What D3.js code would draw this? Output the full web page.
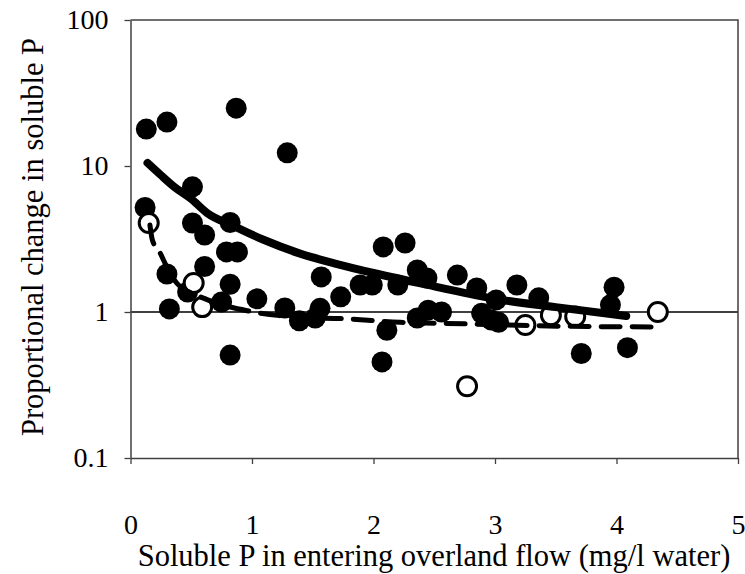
<!DOCTYPE html>
<html>
	<head>
		<title>Proportional change in soluble P</title>
		<script src="https://cdnjs.cloudflare.com/ajax/libs/d3/7.8.5/d3.min.js"></script>
		<style type="text/css">
			body { margin: 0; background: #fff; }
			svg text { font-family: "Liberation Serif", "Times New Roman", serif; fill: #000; }
			.tick text { font-size: 28px; }
			.label { font-size: 30.5px; }
		</style>
	</head>
	<body>
		<svg id="chart" width="745" height="574"></svg>

		<script type="text/javascript">
			// data
			var filledX = [0.13, 0.30, 0.87, 1.29, 0.12, 0.51, 0.51, 0.61, 0.82, 0.79, 0.88, 0.30, 0.61, 0.47, 0.32,
			               0.82, 0.75, 0.82, 1.04, 1.27, 1.39, 1.52, 1.56, 1.57, 1.73, 1.89, 1.99, 2.08, 2.26, 2.20,
			               2.36, 2.44, 2.69, 2.85, 3.01, 2.36, 2.45, 2.56, 2.11, 2.07, 2.89, 2.97, 3.18, 3.03, 3.36,
			               3.98, 3.95, 3.71, 4.09];
			var filledY = [17.9, 20.0, 24.9, 12.3, 5.2, 7.2, 4.07, 3.37, 4.1, 2.58, 2.58, 1.82, 2.05, 1.37, 1.05,
			               1.55, 1.17, 0.507, 1.23, 1.065, 0.87, 0.91, 1.06, 1.74, 1.27, 1.53, 1.53, 2.79, 2.97, 1.53,
			               1.94, 1.71, 1.79, 1.46, 1.21, 0.91, 1.03, 1.0, 0.75, 0.455, 0.98, 0.88, 1.53, 0.85, 1.25,
			               1.48, 1.12, 0.52, 0.57];
			var openX = [0.15, 0.52, 0.59, 2.77, 3.25, 3.46, 3.66, 4.34];
			var openY = [4.07, 1.58, 1.08, 0.31, 0.815, 0.95, 0.93, 1.0];

			// fitted curves, traced point by point
			var solidX = [0.14, 0.25, 0.36, 0.5, 0.63, 0.85, 1.1, 1.39, 1.7, 2.0, 2.5, 3.0, 3.5, 4.08];
			var solidY = [10.5, 8.66, 7.2, 5.95, 4.77, 3.88, 3.11, 2.52, 2.13, 1.85, 1.5, 1.23, 1.08, 0.94];
			var dashX = [0.16, 0.18, 0.24, 0.30, 0.38, 0.54, 0.71, 0.96, 1.39, 1.75, 2.22, 2.75, 3.51, 4.33];
			var dashY = [3.94, 3.11, 2.57, 2.03, 1.58, 1.31, 1.15, 1.02, 0.92, 0.90, 0.85, 0.83, 0.80, 0.79];

			var xTicks = [0, 1, 2, 3, 4, 5];
			var yTicks = [0.1, 1, 10, 100];

			var svg = d3.select( '#chart' );
			var mLeft = 130.5, mRight = 738, mTop = 20, mBottom = 458;

			var x = d3.scaleLinear().domain( [0, 5] ).range( [mLeft, mRight] );
			var y = d3.scaleLog().domain( [0.1, 100] ).range( [mBottom, mTop] );

			// reference line at 1
			svg.append( 'line' )
			   .attr( 'x1', mLeft ).attr( 'x2', mRight )
			   .attr( 'y1', y(1) ).attr( 'y2', y(1) )
			   .attr( 'stroke', '#000' ).attr( 'stroke-width', 1.3 );

			// box (top and right)
			svg.append( 'path' )
			   .attr( 'd', 'M' + mLeft + ',' + mTop + 'H' + mRight + 'V' + mBottom )
			   .attr( 'fill', 'none' ).attr( 'stroke', '#404040' ).attr( 'stroke-width', 1.5 );

			svg.append( 'g' )
			   .attr( 'transform', 'translate(0,' + mBottom + ')' )
			   .call( d3.axisBottom( x ).tickValues( xTicks ).tickSize( 6 ).tickSizeOuter( 0 ).tickPadding( 50 ).tickFormat( d3.format( 'd' ) ) );

			svg.append( 'g' )
			   .attr( 'transform', 'translate(' + mLeft + ',0)' )
			   .call( d3.axisLeft( y ).tickValues( yTicks ).tickSize( 6 ).tickSizeOuter( 0 ).tickPadding( 16 ).tickFormat( function( d ) { return String( d ); } ) );

			svg.selectAll( '.domain' ).attr( 'stroke', '#404040' ).attr( 'stroke-width', 1.5 );
			svg.selectAll( '.tick line' ).attr( 'stroke', '#404040' ).attr( 'stroke-width', 1.3 );

			// filled points
			svg.append( 'g' ).selectAll( 'circle' )
			   .data( d3.range( filledX.length ) )
			   .enter().append( 'circle' )
			   .attr( 'cx', function( i ) { return x( filledX[i] ); } )
			   .attr( 'cy', function( i ) { return y( filledY[i] ); } )
			   .attr( 'r', 10.5 )
			   .attr( 'fill', '#000' );

			// open points
			svg.append( 'g' ).selectAll( 'circle' )
			   .data( d3.range( openX.length ) )
			   .enter().append( 'circle' )
			   .attr( 'cx', function( i ) { return x( openX[i] ); } )
			   .attr( 'cy', function( i ) { return y( openY[i] ); } )
			   .attr( 'r', 9.5 )
			   .attr( 'fill', '#fff' )
			   .attr( 'stroke', '#000' ).attr( 'stroke-width', 3 );

			var line = d3.line()
			   .x( function( d ) { return x( d[0] ); } )
			   .y( function( d ) { return y( d[1] ); } )
			   .curve( d3.curveMonotoneX );

			svg.append( 'path' )
			   .attr( 'd', line( d3.zip( solidX, solidY ) ) )
			   .attr( 'fill', 'none' ).attr( 'stroke', '#000' )
			   .attr( 'stroke-width', 8 ).attr( 'stroke-linecap', 'round' );

			svg.append( 'path' )
			   .attr( 'd', line( d3.zip( dashX, dashY ) ) )
			   .attr( 'fill', 'none' ).attr( 'stroke', '#000' )
			   .attr( 'stroke-width', 5 ).attr( 'stroke-linecap', 'round' )
			   .attr( 'stroke-dasharray', '19,12' );

			// axis titles
			svg.append( 'text' ).attr( 'class', 'label' )
			   .attr( 'x', 434 ).attr( 'y', 566 )
			   .attr( 'text-anchor', 'middle' )
			   .text( 'Soluble P in entering overland flow (mg/l water)' );

			svg.append( 'text' ).attr( 'class', 'label' )
			   .attr( 'transform', 'translate(43,237) rotate(-90)' )
			   .attr( 'text-anchor', 'middle' )
			   .text( 'Proportional change in soluble P' );
		</script>
	</body>
</html>
